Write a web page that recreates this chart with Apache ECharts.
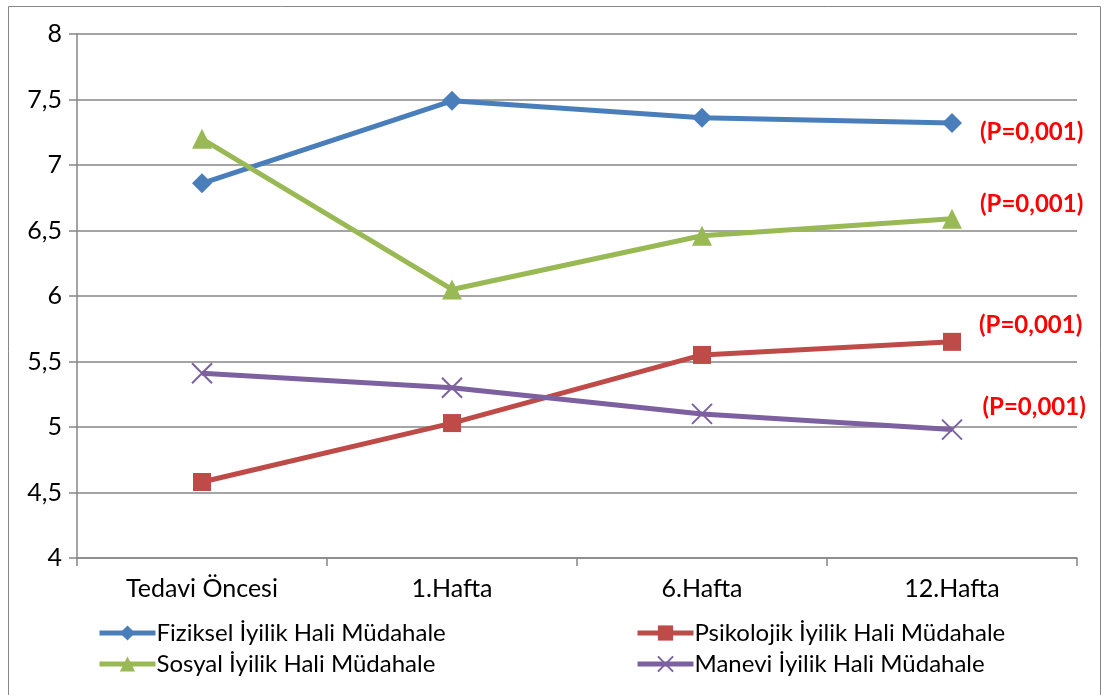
<!DOCTYPE html>
<html>
<head>
<meta charset="utf-8">
<script src="https://cdn.jsdelivr.net/npm/echarts@6/dist/echarts.min.js"></script>
<style>
  html, body { margin: 0; padding: 0; background: #fff; }
  #chart { width: 1105px; height: 695px; }
</style>
</head>
<body>
<div id="chart"></div>
<script>
// Measurement points
const categories = ['Tedavi Öncesi', '1.Hafta', '6.Hafta', '12.Hafta'];

// Well-being scores per dimension (intervention group)
const fiziksel   = [6.86, 7.49, 7.36, 7.32];
const psikolojik = [4.58, 5.03, 5.55, 5.65];
const sosyal     = [7.20, 6.05, 6.46, 6.59];
const manevi     = [5.41, 5.30, 5.10, 4.98];

const seriesNames = [
  'Fiziksel İyilik Hali Müdahale',
  'Psikolojik İyilik Hali Müdahale',
  'Sosyal İyilik Hali Müdahale',
  'Manevi İyilik Hali Müdahale'
];

// Significance note shown after the last point of each line
const pLabel = '(P=0,001)';

const yTicks = { min: 4, max: 8, interval: 0.5 };

const FONT = 'Lato';
const GRAY = '#868686';

function withNote(values, dy) {
  return values.map((v, i) => {
    if (i !== values.length - 1) return v;
    return {
      value: v,
      label: {
        show: true,
        formatter: pLabel,
        position: 'right',
        distance: 6,
        offset: [12, dy],
        color: '#ff0000',
        fontWeight: 'bold',
        fontSize: 24,
        fontFamily: FONT
      }
    };
  });
}

function lineSeries(name, values, color, symbol, size, dy, extraItem) {
  return {
    name: name,
    type: 'line',
    data: withNote(values, dy),
    symbol: symbol,
    symbolSize: size,
    lineStyle: { color: color, width: 5 },
    itemStyle: Object.assign({ color: color }, extraItem || {}),
    z: 3,
    animation: false
  };
}

const legendCommon = {
  orient: 'vertical',
  top: 616,
  itemWidth: 56, itemHeight: 19, itemGap: 7,
  lineStyle: { width: 5 },
  textStyle: { color: '#000', fontSize: 24, fontFamily: FONT, padding: [0, 0, 0, -4] },
  selectedMode: false
};

const chart = echarts.init(document.getElementById('chart'), null, { renderer: 'canvas' });

chart.setOption({
  backgroundColor: '#ffffff',
  textStyle: { fontFamily: FONT },
  graphic: [{
    type: 'rect',
    shape: { x: 8.5, y: 6.5, width: 1092, height: 700 },
    style: { fill: 'none', stroke: GRAY, lineWidth: 1 },
    silent: true,
    z: -1
  }],
  grid: { left: 77, right: 28, top: 34, bottom: 137 },
  xAxis: {
    type: 'category',
    data: categories,
    boundaryGap: true,
    axisLine: { show: true, lineStyle: { color: GRAY, width: 1.5 } },
    axisTick: { show: true, length: 8, interval: 0, lineStyle: { color: GRAY, width: 1.5 } },
    axisLabel: { color: '#000', fontSize: 25, fontFamily: FONT, margin: 18 },
    splitLine: { show: false }
  },
  yAxis: {
    type: 'value',
    min: yTicks.min,
    max: yTicks.max,
    interval: yTicks.interval,
    axisLine: { show: true, lineStyle: { color: GRAY, width: 1.5 } },
    axisTick: { show: true, length: 8, inside: false, lineStyle: { color: GRAY, width: 1.5 } },
    axisLabel: {
      color: '#000', fontSize: 25, fontFamily: FONT, margin: 15,
      formatter: v => String(v).replace('.', ',')
    },
    splitLine: { show: true, lineStyle: { color: GRAY, width: 1.5 } }
  },
  legend: [
    Object.assign({ data: [seriesNames[0], seriesNames[2]], left: 92 }, legendCommon),
    Object.assign({ data: [seriesNames[1], seriesNames[3]], left: 630 }, legendCommon)
  ],
  series: [
    lineSeries(seriesNames[0], fiziksel, '#4a7ebb', 'diamond', 20, 9),
    lineSeries(seriesNames[1], psikolojik, '#be4b48', 'rect', 18, -17),
    lineSeries(seriesNames[2], sosyal, '#98b954', 'triangle', 20, -14),
    lineSeries(seriesNames[3], manevi, '#7d60a0', 'path://M0,0L10,10M10,0L0,10', 20, -22,
      { color: 'none', borderColor: '#7d60a0', borderWidth: 2 })
  ]
});
</script>
</body>
</html>
